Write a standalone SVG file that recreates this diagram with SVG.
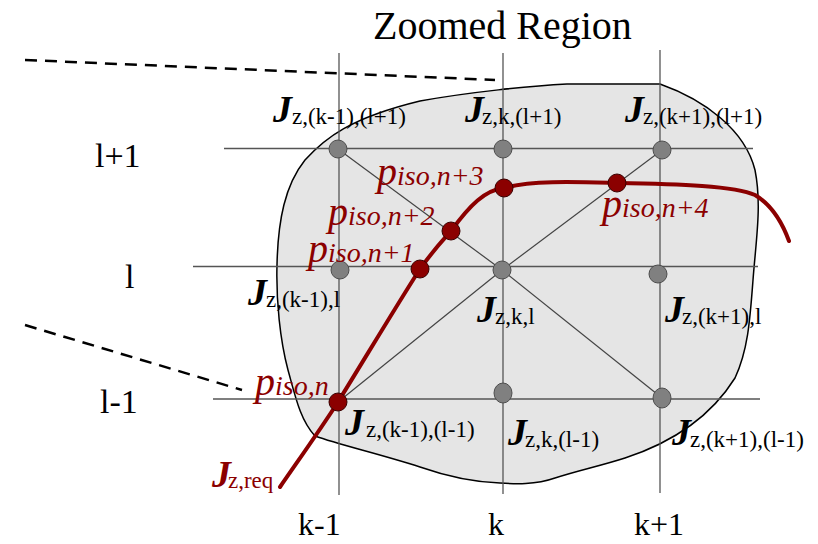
<svg xmlns="http://www.w3.org/2000/svg" width="818" height="544" viewBox="0 0 818 544">
<style>
  .title { font-family: "Liberation Serif", "Times New Roman", serif; font-size: 40px; fill: #000; }
  .axis { font-family: "Liberation Serif", "Times New Roman", serif; font-size: 34px; fill: #000; }
  .axisb { font-family: "Liberation Serif", "Times New Roman", serif; font-size: 32px; fill: #000; }
  .J { font-family: "Liberation Serif", "Times New Roman", serif; font-size: 38px; font-weight: bold; font-style: italic; fill: #000; }
  .sub { font-family: "Liberation Serif", "Times New Roman", serif; font-size: 23px; fill: #000; }
  .red { fill: #8b0000; }
  .pp { font-family: "Liberation Serif", "Times New Roman", serif; font-style: italic; fill: #8b0000; }
  .grid { stroke: #555; stroke-width: 1.3; fill: none; }
  .diag { stroke: #444; stroke-width: 1.2; fill: none; }
  .dash { stroke: #000; stroke-width: 2.5; stroke-dasharray: 12 8; fill: none; }
  .gnode { fill: #808080; stroke: #4d4d4d; stroke-width: 1; }
  .rnode { fill: #8b0000; stroke: #3a0000; stroke-width: 1; }
  .curve { stroke: #8b0000; stroke-width: 4; fill: none; stroke-linecap: round; }
</style>

<g id="background">
  <text class="title" x="373" y="39">Zoomed Region</text>
  <line class="dash" x1="25" y1="60" x2="495" y2="80"/>
  <line class="dash" x1="25" y1="325" x2="242" y2="390"/>
  <path id="region" d="M 567 84 L 660 84 C 705 100, 745 130, 755 170 C 762 205, 756 240, 753 280 C 750 320, 748 350, 735 378 C 715 410, 680 440, 625 458 C 600 466, 580 470, 555 478 C 535 485, 515 484, 500 483 C 470 482, 440 474, 420 467 C 380 454, 340 445, 315 436 C 300 420, 295 395, 288 370 C 280 340, 276 300, 277 265 C 278 220, 285 185, 305 160 C 325 138, 350 118, 420 101 C 470 92, 530 86, 567 84 Z" fill="#e5e5e5" stroke="#000" stroke-width="1.5"/>
  <text class="axis" x="95" y="167">l+1</text>
  <text class="axis" x="125" y="288">l</text>
  <text class="axis" x="100" y="413">l-1</text>
  <text class="axisb" x="298" y="535">k-1</text>
  <text class="axisb" x="488" y="535">k</text>
  <text class="axisb" x="634" y="535">k+1</text>
</g>

<g id="connectors">
  <line class="grid" x1="339" y1="53" x2="339" y2="495"/>
  <line class="grid" x1="503" y1="53" x2="503" y2="494"/>
  <line class="grid" x1="660" y1="50" x2="660" y2="493"/>
  <line class="grid" x1="224" y1="148.5" x2="753" y2="148.5"/>
  <line class="grid" x1="193" y1="266.5" x2="758" y2="266.5"/>
  <line class="grid" x1="213" y1="399" x2="760" y2="399"/>
  <line class="diag" x1="338" y1="149" x2="502" y2="270"/>
  <line class="diag" x1="502" y1="270" x2="662" y2="398"/>
  <line class="diag" x1="662" y1="150" x2="502" y2="270"/>
  <line class="diag" x1="502" y1="270" x2="338" y2="402"/>
  <path class="curve" d="M 280 487 C 300 458, 320 430, 338 402 C 370 350, 400 300, 420 269 C 435 248, 445 238, 451 231 C 470 205, 485 190, 504 188 C 530 180, 580 182, 617 183 C 680 184, 735 186, 755 195 C 772 205, 782 222, 789 241"/>
</g>

<g id="node-km1-lp1">
  <circle class="gnode" cx="338" cy="149" r="9"/>
  <text class="J" x="273" y="122">J</text>
  <text class="sub" x="292" y="124">z,(k-1),(l+1)</text>
</g>
<g id="node-k-lp1">
  <circle class="gnode" cx="503" cy="149" r="9"/>
  <text class="J" x="465" y="122">J</text>
  <text class="sub" x="482" y="124">z,k,(l+1)</text>
</g>
<g id="node-kp1-lp1">
  <circle class="gnode" cx="662" cy="150" r="9"/>
  <text class="J" x="625" y="122">J</text>
  <text class="sub" x="643" y="124">z,(k+1),(l+1)</text>
</g>
<g id="node-km1-l">
  <circle class="gnode" cx="340" cy="270" r="9"/>
  <text class="J" x="248" y="305">J</text>
  <text class="sub" x="266" y="307">z,(k-1),l</text>
</g>
<g id="node-k-l">
  <circle class="gnode" cx="502" cy="270" r="9"/>
  <text class="J" x="477" y="322">J</text>
  <text class="sub" x="495" y="324">z,k,l</text>
</g>
<g id="node-kp1-l">
  <circle class="gnode" cx="658" cy="274" r="9"/>
  <text class="J" x="665" y="322">J</text>
  <text class="sub" x="682" y="324">z,(k+1),l</text>
</g>
<g id="node-km1-lm1">
  <text class="J" x="345" y="435">J</text>
  <text class="sub" x="366" y="437">z,(k-1),(l-1)</text>
</g>
<g id="node-k-lm1">
  <ellipse class="gnode" cx="503" cy="393" rx="9" ry="10"/>
  <text class="J" x="508" y="445">J</text>
  <text class="sub" x="525" y="447">z,k,(l-1)</text>
</g>
<g id="node-kp1-lm1">
  <ellipse class="gnode" cx="662" cy="398" rx="9" ry="10"/>
  <text class="J" x="672" y="445">J</text>
  <text class="sub" x="690" y="447">z,(k+1),(l-1)</text>
</g>

<g id="node-jzreq">
  <text class="J red" x="212" y="487">J</text>
  <text class="sub red" x="228" y="488">z,req</text>
</g>
<g id="node-piso-n">
  <circle class="rnode" cx="338" cy="402" r="9"/>
  <text class="pp" x="255" y="395"><tspan font-size="40">p</tspan><tspan font-size="28">iso,n</tspan></text>
</g>
<g id="node-piso-n1">
  <circle class="rnode" cx="420" cy="269" r="9"/>
  <text class="pp" x="308" y="262"><tspan font-size="40">p</tspan><tspan font-size="28">iso,n+1</tspan></text>
</g>
<g id="node-piso-n2">
  <circle class="rnode" cx="451" cy="231" r="9"/>
  <text class="pp" x="328" y="225"><tspan font-size="40">p</tspan><tspan font-size="28">iso,n+2</tspan></text>
</g>
<g id="node-piso-n3">
  <circle class="rnode" cx="504" cy="188" r="9"/>
  <text class="pp" x="377" y="185"><tspan font-size="40">p</tspan><tspan font-size="28">iso,n+3</tspan></text>
</g>
<g id="node-piso-n4">
  <circle class="rnode" cx="617" cy="183" r="9"/>
  <text class="pp" x="602" y="217"><tspan font-size="40">p</tspan><tspan font-size="28">iso,n+4</tspan></text>
</g>
</svg>
